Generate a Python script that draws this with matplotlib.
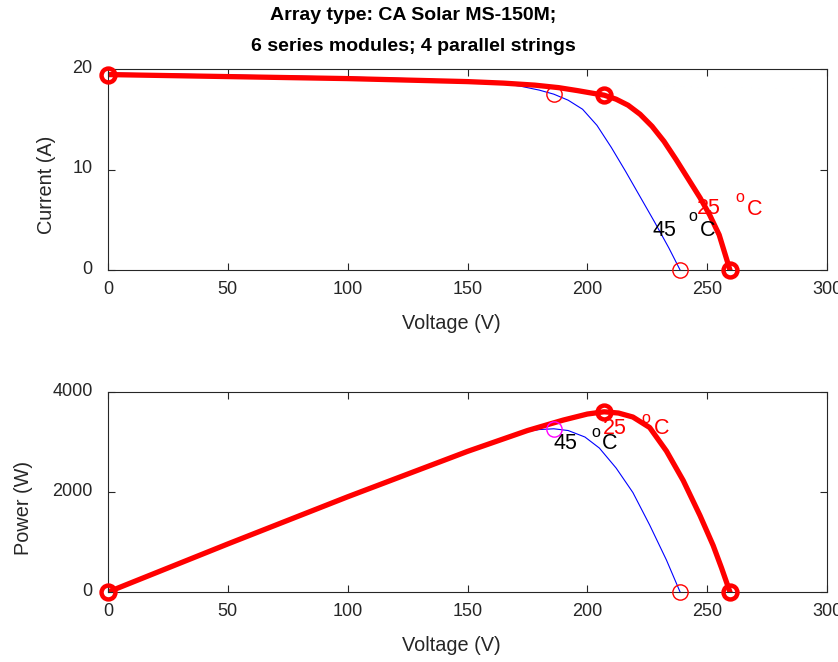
import matplotlib
matplotlib.use("Agg")
import matplotlib.pyplot as plt
import matplotlib.transforms as mtransforms

plt.rcParams['font.family'] = ['Liberation Sans', 'DejaVu Sans']

# I-V curve, 25 C (red) and 45 C (blue)
v25 = [0, 25, 50, 75, 100, 125, 150, 165, 178, 188, 196, 202, 207, 212, 217, 222, 227, 232, 237, 242, 247, 251, 255, 259.5]
i25 = [19.45, 19.35, 19.25, 19.15, 19.05, 18.9, 18.75, 18.6, 18.4, 18.15, 17.85, 17.6, 17.4, 17.0, 16.4, 15.5, 14.3, 12.8, 11.0, 9.1, 7.2, 5.5, 3.5, 0]
v45 = [0, 25, 50, 75, 100, 125, 150, 162, 172, 180, 186, 192, 198, 204, 210, 216, 222, 228, 234, 238.7]
i45 = [19.6, 19.5, 19.4, 19.3, 19.2, 19.05, 18.85, 18.65, 18.3, 17.9, 17.5, 16.9, 16.0, 14.4, 12.2, 9.8, 7.3, 4.8, 2.2, 0]

# P-V curve
vp25 = [0, 50, 100, 150, 175, 190, 200, 207, 213, 219, 226, 233, 240, 247, 252.5, 256, 259.5]
p25 = [0, 962, 1905, 2813, 3230, 3440, 3560, 3605, 3580, 3500, 3290, 2820, 2230, 1530, 930, 480, 0]
vp45 = [0, 50, 100, 150, 170, 180, 186, 192, 199, 205, 212, 219, 226, 233, 238.7]
p45 = [0, 970, 1920, 2830, 3170, 3250, 3265, 3230, 3100, 2880, 2480, 1990, 1340, 640, 0]

# key points: short circuit, max power point, open circuit
isc25 = 19.45
vmp25, imp25, pmp25 = 207, 17.4, 3605
voc25 = 259.5
vmp45, imp45, pmp45 = 186, 17.5, 3265
voc45 = 238.7

xticks = [0, 50, 100, 150, 200, 250, 300]

fig = plt.figure(figsize=(8.38, 6.62), dpi=100)
ax1 = fig.add_axes([0.1289, 0.5921, 0.858, 0.3036])
ax2 = fig.add_axes([0.1289, 0.1057, 0.858, 0.3021])

fig.text(0.493, 0.977, 'Array type: CA Solar MS-150M;', ha='center', va='center',
         fontsize=14, fontweight='bold')
fig.text(0.493, 0.9305, '6 series modules; 4 parallel strings', ha='center', va='center',
         fontsize=14, fontweight='bold')

thick = dict(marker='o', ls='none', mfc='none', mec='red', ms=10, mew=3.2, clip_on=False, zorder=5)
thin = dict(marker='o', ls='none', mfc='none', ms=11, mew=1, clip_on=False, zorder=4)

# top: current
ax1.plot(v45, i45, color='blue', lw=0.8)
ax1.plot(v25, i25, color='red', lw=3.8)
ax1.plot([0, vmp25, voc25], [isc25, imp25, 0], **thick)
ax1.plot([vmp45, voc45], [imp45, 0], mec='red', **thin)

# bottom: power
ax2.plot(vp45, p45, color='blue', lw=0.8)
ax2.plot(vp25, p25, color='red', lw=3.8)
ax2.plot([0, vmp25, voc25], [0, pmp25, 0], **thick)
ax2.plot([vmp45], [pmp45], mec='magenta', **thin)
ax2.plot([voc45], [0], mec='red', **thin)

# temperature labels
big, small = 15.5, 11.5
ax1.text(227, 3.98, '45', fontsize=big, va='center', ha='left')
ax1.text(244.1, 5.37, 'o', fontsize=small, va='center', ha='center')
ax1.text(247, 3.98, 'C', fontsize=big, va='center', ha='left')
ax1.text(245.8, 6.17, '25', fontsize=big, va='center', ha='left', color='red')
ax1.text(263.7, 7.26, 'o', fontsize=small, va='center', ha='center', color='red')
ax1.text(266.6, 6.07, 'C', fontsize=big, va='center', ha='left', color='red')

ax2.text(185.7, 2980, '45', fontsize=big, va='center', ha='left')
ax2.text(203.6, 3200, 'o', fontsize=small, va='center', ha='center')
ax2.text(206.1, 2980, 'C', fontsize=big, va='center', ha='left')
ax2.text(206.5, 3280, '25', fontsize=big, va='center', ha='left', color='red')
ax2.text(224.5, 3480, 'o', fontsize=small, va='center', ha='center', color='red')
ax2.text(227.8, 3280, 'C', fontsize=big, va='center', ha='left', color='red')

ax1.set_xlim(0, 300)
ax1.set_ylim(0, 20)
ax1.set_yticks([0, 10, 20])
ax2.set_xlim(0, 300)
ax2.set_ylim(0, 4000)
ax2.set_yticks([0, 2000, 4000])

# y tick labels sit a few pixels above their ticks in the reference
raise_up = mtransforms.ScaledTranslation(0, 3 / 100, fig.dpi_scale_trans)
for ax in (ax1, ax2):
    ax.set_xticks(xticks)
    ax.tick_params(direction='in', length=5, width=0.8, colors='#262626',
                   top=True, right=True, labelsize=13)
    ax.tick_params(axis='x', pad=8)
    ax.tick_params(axis='y', pad=11)
    for lab in ax.get_yticklabels():
        lab.set_transform(lab.get_transform() + raise_up)
    for s in ax.spines.values():
        s.set_color('#262626')
        s.set_linewidth(0.8)
    ax.set_xlabel('Voltage (V)', fontsize=14.3, color='#262626')
    ax.xaxis.set_label_coords(0.477, -0.22)

ax1.set_ylabel('Current (A)', fontsize=14.3, color='#262626')
ax1.yaxis.set_label_coords(-0.072, 0.423)
ax2.set_ylabel('Power (W)', fontsize=14.3, color='#262626')
ax2.yaxis.set_label_coords(-0.104, 0.4225)

fig.savefig('out.png', dpi=100)
